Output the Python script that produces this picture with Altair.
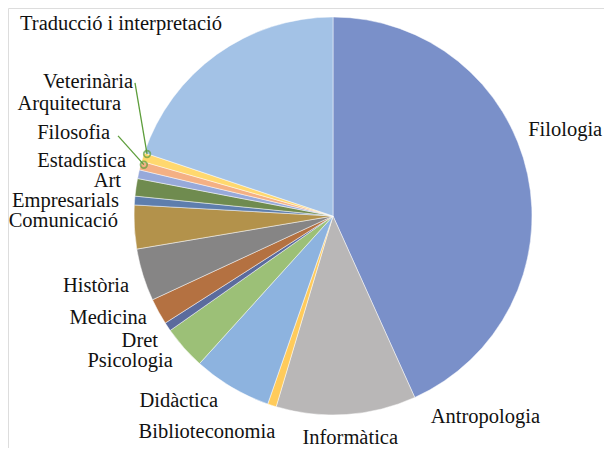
import math
import altair as alt
import pandas as pd

# ---- data ----
labels = ["Filologia", "Antropologia", "Informàtica", "Biblioteconomia", "Didàctica",
          "Psicologia", "Dret", "Medicina", "Història", "Comunicació", "Empresarials",
          "Art", "Estadística", "Filosofia", "Arquitectura", "Veterinària",
          "Traducció i interpretació"]
values = [61, 0, 16, 1, 9, 5, 1, 3, 6, 5, 1, 2, 1, 1, 0, 1, 28]
colors = ["#7A90C9", "#F1A069", "#B9B7B7", "#FFCB5B", "#8DB3DF", "#9CC077", "#5B6B9D",
          "#B47141", "#868585", "#B3924B", "#5E7EAD", "#6F8B4F", "#97A9DA", "#F4B084",
          "#C8C8C8", "#FFD86E", "#A3C2E6"]

# ---- label layout (style: angular nudge from slice middle, distance from centre) ----
label_shift = [-10.2, -1.0, -0.5, -3.3, 0.4, -1.8, -3.0, -1.4, -3.2, 0.3, -2.1,
               -0.5, 1.2, 4.4, 10.6, 15.4, -13.0]
label_dist = [211.0, 229.0, 228.6, 229.5, 223.0, 220.0, 218.6, 215.1, 217.7, 215.3,
              214.2, 214.0, 212.7, 235.9, 237.0, 237.5, 282.0]
label_align = ["left", "left", "center"] + ["right"] * 13 + ["center"]
leader_labels = ["Filosofia", "Veterinària"]
leader_start_off = [(8, -3), (2, -5)]
leader_end_shift = [0.5, 1.2]

CX, CY, R = 325, 208, 199
W, H = 596, 440

total = sum(values)
rows = []
cum = 0.0
for i, (lab, v) in enumerate(zip(labels, values)):
    start = cum
    cum += v
    mid = (start + cum) / 2.0 / total * 360.0
    ang = math.radians(mid + label_shift[i])
    lx = CX + label_dist[i] * math.sin(ang)
    ly = CY - label_dist[i] * math.cos(ang)
    rows.append(dict(idx=i, label=lab, value=v, mid=mid, lx=lx, ly=ly,
                     align=label_align[i]))
df = pd.DataFrame(rows)

lead_rows = []
for lab, (ox, oy), sh in zip(leader_labels, leader_start_off, leader_end_shift):
    r = df[df.label == lab].iloc[0]
    a = math.radians(r["mid"] + sh)
    ex = CX + (R - 3) * math.sin(a)
    ey = CY - (R - 3) * math.cos(a)
    lead_rows.append(dict(label=lab, x1=r["lx"] + ox, y1=r["ly"] + oy, x2=ex, y2=ey))
lead = pd.DataFrame(lead_rows)

FONT = "Liberation Serif"
FS = 20.5

arcs = alt.Chart(df).transform_filter("datum.value > 0").mark_arc(
    radius=R, stroke="#FFFFFF", strokeWidth=0.6, strokeOpacity=0.8
).encode(
    theta=alt.Theta("value:Q", stack=True),
    color=alt.Color("label:N", scale=alt.Scale(domain=labels, range=colors), legend=None),
    order=alt.Order("idx:Q", sort="ascending"),
    x=alt.value(CX),
    y=alt.value(CY),
)

rules = alt.Chart(lead).mark_rule(color="#5E9E3C", strokeWidth=1.3).encode(
    x=alt.X("x1:Q", scale=None, axis=None),
    y=alt.Y("y1:Q", scale=None, axis=None),
    x2="x2:Q",
    y2="y2:Q",
)

dots = alt.Chart(lead).mark_point(
    shape="circle", size=45, filled=False, color="#5E9E3C", strokeWidth=1.7
).encode(
    x=alt.X("x2:Q", scale=None, axis=None),
    y=alt.Y("y2:Q", scale=None, axis=None),
)

def text_layer(al):
    return alt.Chart(df).transform_filter(f"datum.align == '{al}'").mark_text(
        align=al, baseline="alphabetic", font=FONT, fontSize=FS, color="#111111"
    ).encode(
        x=alt.X("lx:Q", scale=None, axis=None),
        y=alt.Y("ly:Q", scale=None, axis=None),
        text="label:N",
    )

chart = alt.layer(
    arcs, rules, dots, text_layer("left"), text_layer("center"), text_layer("right")
).properties(
    width=W, height=H, padding=0,
    autosize=alt.AutoSizeParams(type="none"),
).configure_view(strokeWidth=0, stroke="transparent").configure(background="transparent")

chart.save("out.html", embed_options={"renderer": "svg", "actions": False})
